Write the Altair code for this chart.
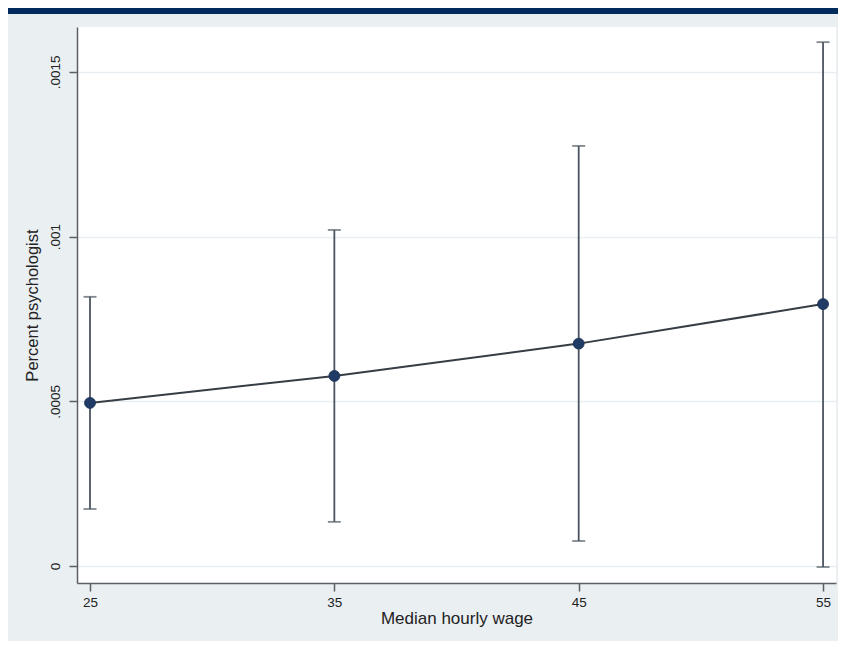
import altair as alt
import pandas as pd

wage = [25, 35, 45, 55]
margin = [0.000495, 0.000577, 0.000675, 0.000795]
ci_low = [0.000173, 0.000134, 0.0000759, -0.000003]
ci_high = [0.000817, 0.00102, 0.001275, 0.00159]
y_ticks = [0, 0.0005, 0.001, 0.0015]
x_ticks = [25, 35, 45, 55]

df = pd.DataFrame({"wage": wage, "margin": margin, "lo": ci_low, "hi": ci_high})

FONT = "Liberation Sans"
xscale = alt.Scale(domain=[24.468, 55.53], nice=False, zero=False)
yscale = alt.Scale(domain=[-0.0000516, 0.001636], nice=False, zero=False)

xaxis = alt.Axis(values=x_ticks, title="Median hourly wage", grid=False,
                 labelFontSize=13.5, titleFontSize=17, labelFont=FONT, titleFont=FONT,
                 labelColor="#222", titleColor="#222", domainColor="#5a5f66",
                 tickColor="#5a5f66", domainWidth=1.5, tickWidth=1.5, tickSize=8,
                 labelPadding=4, titlePadding=2, titleFontWeight="normal")
yaxis = alt.Axis(values=y_ticks, title="Percent psychologist", grid=True,
                 gridColor="#e9eef2", gridWidth=1.5,
                 labelExpr="datum.value == 0 ? '0' : replace(toString(datum.value), /^0/, '')",
                 labelAngle=270, labelAlign="center", labelBaseline="bottom",
                 labelFontSize=13.5, titleFontSize=16.5, labelFont=FONT, titleFont=FONT,
                 labelColor="#222", titleColor="#222", domainColor="#5a5f66",
                 tickColor="#5a5f66", domainWidth=1.5, tickWidth=1.5, tickSize=8,
                 labelPadding=7, titlePadding=8, titleFontWeight="normal")

base = alt.Chart(df)

bars = base.mark_errorbar(color="#4b5561", thickness=1.8,
                          ticks={"size": 13, "thickness": 1.8, "color": "#4b5561"}).encode(
    x=alt.X("wage:Q", scale=xscale, axis=xaxis),
    y=alt.Y("lo:Q", scale=yscale, axis=yaxis),
    y2="hi:Q",
)

line = base.mark_line(color="#373d45", strokeWidth=2).encode(
    x=alt.X("wage:Q", scale=xscale),
    y=alt.Y("margin:Q", scale=yscale),
)

pts = base.mark_point(filled=True, color="#1f3b66", size=120, opacity=1,
                      stroke="#1a2f52", strokeWidth=0.8).encode(
    x=alt.X("wage:Q", scale=xscale),
    y=alt.Y("margin:Q", scale=yscale),
)

band = alt.Chart(pd.DataFrame({"a": [0]})).mark_rect(color="#002b5c").encode(
    x=alt.value(-69), x2=alt.value(761), y=alt.value(-19), y2=alt.value(-13)
)

chart = alt.layer(bars, line, pts, band).properties(
    width=759, height=556,
    autosize=alt.AutoSizeParams(type="none"),
    padding={"left": 69, "top": 19, "right": 2, "bottom": 58},
    background="#eaeff2",
).configure_view(fill="white", stroke=None)

chart.save("out.html", embed_options={"renderer": "svg", "actions": False})
